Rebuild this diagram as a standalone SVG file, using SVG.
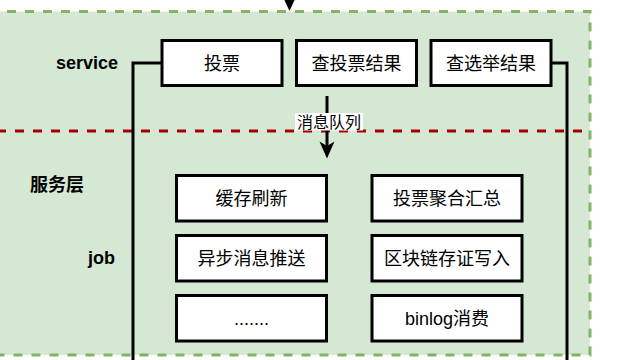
<svg xmlns="http://www.w3.org/2000/svg" width="622" height="360" viewBox="0 0 622 360">
<style>
.box{fill:#fff;stroke:#000;stroke-width:3}
.lbl{font-family:"Liberation Sans","Noto Sans CJK SC",sans-serif;font-size:18px;fill:#000;text-anchor:middle}
.side{font-family:"Liberation Sans","Noto Sans CJK SC",sans-serif;font-size:18px;font-weight:bold;fill:#000}
.conn{fill:none;stroke:#000;stroke-width:3}
</style>
<rect id="container" x="-11" y="11.5" width="601" height="343.5" fill="#d5e8d4" stroke="#82b366" stroke-width="3" stroke-dasharray="9 9"/>
<line id="divider" x1="-3" y1="131" x2="586" y2="131" stroke="#a50000" stroke-width="3" stroke-dasharray="9 9"/>
<g id="connectors">
  <line x1="289.5" y1="-10" x2="289.5" y2="2" class="conn"/>
  <path d="M289.5,11 L283.5,-2 L289.5,1 L295.5,-2 Z" fill="#000"/>
  <path class="conn" d="M162,63 H133 V362"/>
  <path class="conn" d="M551,63 H567 V362"/>
  <line x1="327" y1="96" x2="327" y2="148" class="conn"/>
  <path d="M327,158.5 L319.5,141.5 L327,146 L334.5,141.5 Z" fill="#000"/>
  <rect x="295" y="113" width="68" height="17.5" fill="#fff"/>
  <text x="329" y="127.5" class="lbl" style="font-size:16px">消息队列</text>
</g>
<g id="label-service"><text x="118" y="69" class="side" text-anchor="end">service</text></g>
<g id="label-layer"><text x="57" y="191" class="side" text-anchor="middle">服务层</text></g>
<g id="label-job"><text x="115" y="264" class="side" text-anchor="end">job</text></g>
<g id="svc-vote"><rect class="box" x="162" y="40.5" width="120" height="45"/><text class="lbl" x="222" y="69.5">投票</text></g>
<g id="svc-query-vote"><rect class="box" x="296.5" y="40.5" width="120" height="45"/><text class="lbl" x="356.5" y="69.5">查投票结果</text></g>
<g id="svc-query-election"><rect class="box" x="431" y="40.5" width="120" height="45"/><text class="lbl" x="491" y="69.5">查选举结果</text></g>
<g id="job-cache"><rect class="box" x="176.5" y="175.5" width="150" height="45.5"/><text class="lbl" x="251.5" y="204.5">缓存刷新</text></g>
<g id="job-aggregate"><rect class="box" x="372" y="175.5" width="150" height="45.5"/><text class="lbl" x="447" y="204.5">投票聚合汇总</text></g>
<g id="job-push"><rect class="box" x="176.5" y="235.5" width="150" height="45.5"/><text class="lbl" x="251.5" y="264.5">异步消息推送</text></g>
<g id="job-blockchain"><rect class="box" x="372" y="235.5" width="150" height="45.5"/><text class="lbl" x="447" y="264.5">区块链存证写入</text></g>
<g id="job-more"><rect class="box" x="176.5" y="295.5" width="150" height="45.5"/><text class="lbl" x="251.5" y="324.5">.......</text></g>
<g id="job-binlog"><rect class="box" x="372" y="295.5" width="150" height="45.5"/><text class="lbl" x="447" y="324.5">binlog消费</text></g>
</svg>
